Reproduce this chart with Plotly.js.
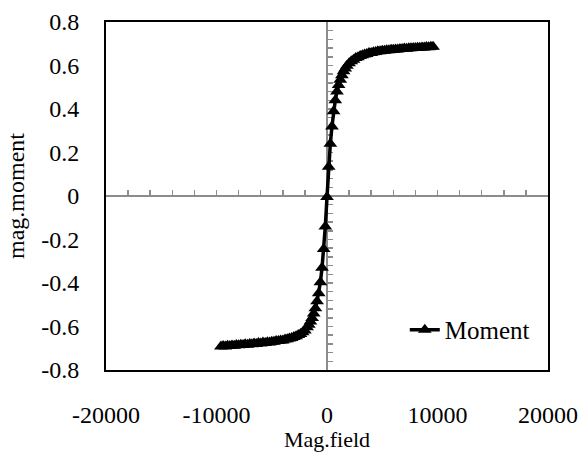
<!DOCTYPE html>
<html>
<head>
<meta charset="utf-8">
<script src="https://cdn.plot.ly/plotly-3.0.1.min.js"></script>
<style>
  html, body { margin: 0; padding: 0; background: #fff; }
  #chart { width: 584px; height: 452px; }
</style>
</head>
<body>
<div id="chart"></div>
<script>
// Applied field sweep (Oe) and measured magnetic moment
const fieldOe = [
  -9600, -9400, -9200, -9000, -8800, -8600, -8400, -8200, -8000, -7800,
  -7600, -7400, -7200, -7000, -6800, -6600, -6400, -6200, -6000, -5800,
  -5600, -5400, -5200, -5000, -4800, -4600, -4400, -4200, -4000, -3800,
  -3600, -3400, -3200, -3000, -2800, -2600, -2400, -2200, -2000, -1800,
  -1650, -1500, -1350, -1200, -1050, -900, -750, -600, -450, -300,
  -150, 0, 150, 300, 450, 600, 750, 900, 1050, 1200,
  1350, 1500, 1650, 1800, 2000, 2200, 2400, 2600, 2800, 3000,
  3200, 3400, 3600, 3800, 4000, 4200, 4400, 4600, 4800, 5000,
  5200, 5400, 5600, 5800, 6000, 6200, 6400, 6600, 6800, 7000,
  7200, 7400, 7600, 7800, 8000, 8200, 8400, 8600, 8800, 9000,
  9200, 9400, 9600
];
const moment = [
  -0.692, -0.690, -0.692, -0.688, -0.690, -0.687, -0.688, -0.685, -0.686, -0.684,
  -0.685, -0.682, -0.684, -0.680, -0.682, -0.678, -0.680, -0.676, -0.678, -0.674,
  -0.676, -0.672, -0.673, -0.670, -0.670, -0.667, -0.667, -0.664, -0.664, -0.660,
  -0.659, -0.655, -0.653, -0.648, -0.645, -0.639, -0.634, -0.626, -0.618, -0.604,
  -0.592, -0.577, -0.561, -0.540, -0.516, -0.484, -0.447, -0.397, -0.330, -0.244,
  -0.140, -0.005, 0.135, 0.240, 0.320, 0.390, 0.440, 0.480, 0.510, 0.535,
  0.555, 0.573, 0.586, 0.599, 0.610, 0.620, 0.627, 0.634, 0.638, 0.644,
  0.647, 0.651, 0.653, 0.657, 0.658, 0.661, 0.662, 0.665, 0.665, 0.668,
  0.668, 0.670, 0.670, 0.672, 0.672, 0.674, 0.674, 0.676, 0.676, 0.678,
  0.677, 0.679, 0.679, 0.681, 0.680, 0.682, 0.682, 0.683, 0.683, 0.685,
  0.684, 0.686, 0.686
];

const xTickVals = [-20000, -10000, 0, 10000, 20000];
const xTickText = ['-20000', '-10000', '0', '10000', '20000'];
const yTickVals = [0.8, 0.6, 0.4, 0.2, 0, -0.2, -0.4, -0.6, -0.8];
const yTickText = ['0.8', '0.6', '0.4', '0.2', '0', '-0.2', '-0.4', '-0.6', '-0.8'];

const serif = 'Liberation Serif';
const xRange = [-20000, 20000];
const yRange = [-0.8, 0.8];

const traces = [
  {
    x: fieldOe,
    y: moment,
    name: 'Moment',
    type: 'scatter',
    mode: 'lines+markers',
    line: { color: '#000', width: 3.5 },
    marker: { symbol: 'triangle-up', size: 12, color: '#000' },
    hoverinfo: 'x+y'
  },
  {
    // carries the crossing axes through the origin
    x: [0], y: [0],
    xaxis: 'x2', yaxis: 'y2',
    mode: 'markers',
    marker: { opacity: 0 },
    showlegend: false,
    hoverinfo: 'skip'
  }
];

const layout = {
  width: 584,
  height: 452,
  margin: { l: 106, r: 36, t: 22, b: 82 },
  paper_bgcolor: '#fff',
  plot_bgcolor: '#fff',
  font: { family: serif, size: 24, color: '#000' },
  showlegend: true,
  legend: {
    x: 0.676, xanchor: 'left',
    y: 0.115, yanchor: 'middle',
    bgcolor: 'rgba(0,0,0,0)',
    font: { family: serif, size: 25, color: '#000' }
  },
  xaxis: {
    range: xRange,
    tickmode: 'array',
    tickvals: xTickVals,
    ticktext: xTickText,
    tickfont: { family: serif, size: 24, color: '#000' },
    ticks: '',
    ticklabelstandoff: 22,
    showgrid: false,
    zeroline: false,
    showline: true, mirror: true,
    linecolor: '#000', linewidth: 2,
    title: { text: 'Mag.field', font: { family: serif, size: 22, color: '#000' }, standoff: 12 }
  },
  yaxis: {
    range: yRange,
    tickmode: 'array',
    tickvals: yTickVals,
    ticktext: yTickText,
    tickfont: { family: serif, size: 24, color: '#000' },
    ticks: '',
    ticklabelstandoff: 20,
    showgrid: false,
    zeroline: false,
    showline: true, mirror: true,
    linecolor: '#000', linewidth: 2,
    title: { text: 'mag.moment', font: { family: serif, size: 24, color: '#000' }, standoff: 10 }
  },
  xaxis2: {
    overlaying: 'x',
    anchor: 'free',
    position: 0.5,
    range: xRange,
    dtick: 2000,
    ticks: 'inside',
    ticklen: 5,
    tickwidth: 1.5,
    tickcolor: '#8c8c8c',
    showticklabels: false,
    showgrid: false,
    zeroline: false,
    showline: true,
    linecolor: '#8c8c8c',
    linewidth: 2,
    layer: 'below traces'
  },
  yaxis2: {
    overlaying: 'y',
    anchor: 'free',
    position: 0.5,
    range: yRange,
    dtick: 0.04,
    ticks: 'inside',
    ticklen: 5,
    tickwidth: 1.5,
    tickcolor: '#8c8c8c',
    showticklabels: false,
    showgrid: false,
    zeroline: false,
    showline: true,
    linecolor: '#8c8c8c',
    linewidth: 2,
    layer: 'below traces'
  }
};

Plotly.newPlot('chart', traces, layout, { displayModeBar: false, staticPlot: true });
</script>
</body>
</html>
